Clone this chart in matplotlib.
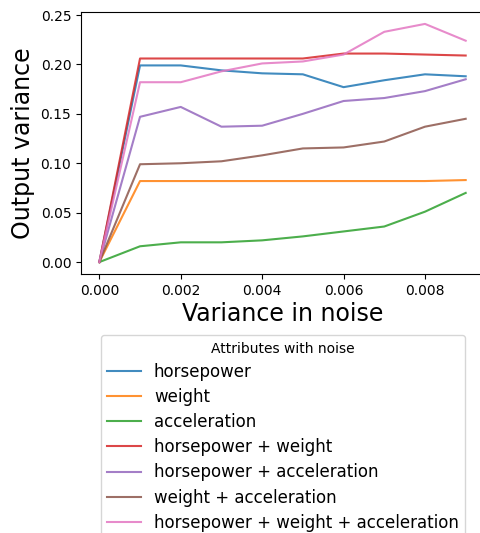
import matplotlib
matplotlib.use("Agg")
import matplotlib.pyplot as plt

noise_var = [0.0, 0.001, 0.002, 0.003, 0.004, 0.005, 0.006, 0.007, 0.008, 0.009]

horsepower = [0.0, 0.199, 0.199, 0.194, 0.191, 0.190, 0.177, 0.184, 0.190, 0.188]
weight = [0.0, 0.082, 0.082, 0.082, 0.082, 0.082, 0.082, 0.082, 0.082, 0.083]
acceleration = [0.0, 0.016, 0.020, 0.020, 0.022, 0.026, 0.031, 0.036, 0.051, 0.070]
hp_weight = [0.0, 0.206, 0.206, 0.206, 0.206, 0.206, 0.211, 0.211, 0.210, 0.209]
hp_accel = [0.0, 0.147, 0.157, 0.137, 0.138, 0.150, 0.163, 0.166, 0.173, 0.185]
weight_accel = [0.0, 0.099, 0.100, 0.102, 0.108, 0.115, 0.116, 0.122, 0.137, 0.145]
hp_weight_accel = [0.0, 0.182, 0.182, 0.193, 0.201, 0.203, 0.210, 0.233, 0.241, 0.224]

series_labels = ["horsepower", "weight", "acceleration", "horsepower + weight",
                 "horsepower + acceleration", "weight + acceleration",
                 "horsepower + weight + acceleration"]
series_values = [horsepower, weight, acceleration, hp_weight, hp_accel,
                 weight_accel, hp_weight_accel]
colors = ["#1f77b4", "#ff7f0e", "#2ca02c", "#d62728", "#9467bd", "#8c564b", "#e377c2"]

fig = plt.figure(figsize=(4.81, 5.33), dpi=100)
ax = fig.add_axes([81 / 481, (533 - 274) / 533, (484 - 81) / 481, (274 - 12) / 533])

for lab, vals, c in zip(series_labels, series_values, colors):
    ax.plot(noise_var, vals, color=c, alpha=0.85, linewidth=1.5, label=lab)

ax.set_xticks([0.0, 0.002, 0.004, 0.006, 0.008])
ax.set_xticklabels(["0.000", "0.002", "0.004", "0.006", "0.008"])
ax.set_yticks([0.0, 0.05, 0.10, 0.15, 0.20, 0.25])
ax.set_yticklabels(["0.00", "0.05", "0.10", "0.15", "0.20", "0.25"])
ax.tick_params(labelsize=10)
ax.set_xlabel("Variance in noise", fontsize=17, labelpad=3)
ax.set_ylabel("Output variance", fontsize=17)

leg = ax.legend(title="Attributes with noise", fontsize=12, title_fontsize=10,
                loc="upper center", bbox_to_anchor=(283 / 481, 1 - 335 / 533),
                bbox_transform=fig.transFigure, borderaxespad=0,
                labelspacing=0.43)

fig.savefig("out.png", dpi=100)
